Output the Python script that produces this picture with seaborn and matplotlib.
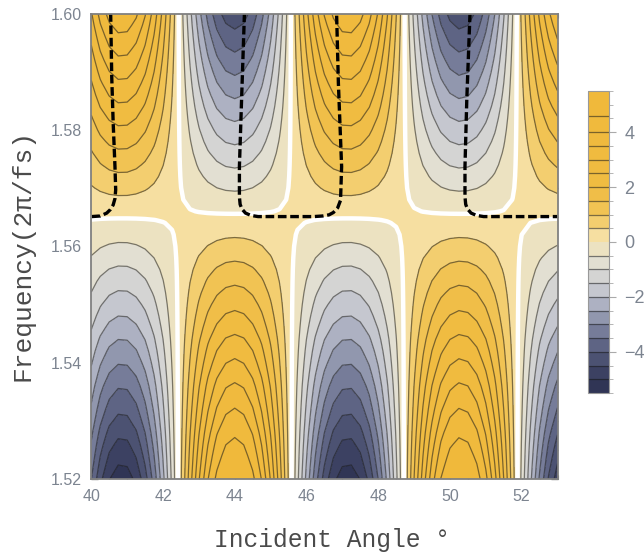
import numpy as np
import matplotlib
matplotlib.use("Agg")
import matplotlib.pyplot as plt
from matplotlib.colors import LinearSegmentedColormap
from matplotlib.ticker import MultipleLocator, FormatStrFormatter
import seaborn as sns

sns.set_style("white")
plt.rcParams['font.family'] = ['Liberation Sans', 'DejaVu Sans']

# angle samples and the lobe height read across the map (+ = gold below the band)
angles = np.arange(40, 53.01, 0.25)
angle_profile = [-.662, -.826, -.940, -.995, -.989, -.921, -.797, -.624, -.411, -.174,
                 .075, .319, .543, .733, .878, .969, 1, .969, .878, .733, .543, .319, .075,
                 -.174, -.411, -.624, -.797, -.921, -.989, -.995, -.940, -.826, -.662, -.456, -.223,
                 .025, .271, .5, .698, .854, .956, .999, .980, .901, .766, .584, .365, .125,
                 -.125, -.365, -.584, -.766, -.901]

# frequency samples and contour height read along a lobe centre
freqs = [1.52, 1.522, 1.524, 1.526, 1.528, 1.53, 1.532, 1.534, 1.536, 1.538, 1.54, 1.542,
         1.544, 1.546, 1.548, 1.55, 1.552, 1.554, 1.556, 1.558, 1.56, 1.562, 1.564, 1.5645,
         1.565, 1.5652, 1.5655, 1.566, 1.568, 1.57, 1.572, 1.574, 1.576, 1.578, 1.58, 1.582,
         1.584, 1.586, 1.588, 1.59, 1.592, 1.594, 1.596, 1.598, 1.6]
freq_profile = [5.35, 5.12, 4.9, 4.68, 4.45, 4.2, 3.97, 3.74, 3.52, 3.27, 3.03, 2.8,
                2.56, 2.3, 2.06, 1.83, 1.6, 1.37, 1.13, .88, .63, .39, .14, .085,
                .025, 0, -.04, -.11, -.36, -.62, -.87, -1.12, -1.37, -1.62, -1.87, -2.12,
                -2.38, -2.63, -2.88, -3.13, -3.38, -3.63, -3.88, -4.14, -4.39]
band_offset = 0.05

# top band of the colour bar is wider than the others
levels = [-5.5, -5, -4.5, -4, -3.5, -3, -2.5, -2, -1.5, -1, -0.5, 0,
          0.5, 1, 1.5, 2, 2.5, 3, 3.5, 4, 4.6, 5.5]
line_levels = [v for v in levels[1:-1] if v != 0]
cbar_ticks = [-4, -2, 0, 2, 4]
cbar_labels = ['−4', '−2', '0', '2', '4']

# band colours at their mid values
colour_vals = [-5.5, -4.75, -4.25, -3.75, -3.25, -2.75, -2.25, -1.75, -1.25, -0.75, -0.25,
               0.25, 0.75, 1.25, 2, 5.5]
colour_hex = ['#2b3050', '#3c4162', '#4c5272', '#5f6585', '#767c99', '#9096ae', '#aeb2c3', '#c5c7cf',
              '#d5d5d3', '#e2dfd2', '#ece2c2', '#f6dfa0', '#f3ce6f', '#f1c354', '#f0bc42', '#f0b93a']

# black dashed curves
dash1_x = [40.01, 40.25, 40.43, 40.53, 40.61, 40.66, 40.68, 40.66, 40.61, 40.57, 40.54]
dash1_y = [1.5651, 1.5652, 1.5657, 1.5663, 1.5671, 1.5682, 1.5697, 1.5737, 1.5812, 1.5891, 1.60]
dash2_x = [44.27, 44.19, 44.13, 44.13, 44.15, 44.2, 44.3, 44.45, 44.65, 46.2, 46.45, 46.63, 46.75, 46.87, 46.95, 46.98, 46.89, 46.84]
dash2_y = [1.60, 1.5851, 1.5737, 1.5685, 1.5672, 1.5664, 1.5657, 1.5653, 1.5651, 1.5651, 1.5652, 1.5654, 1.5658, 1.5666, 1.5679, 1.5737, 1.5880, 1.60]
dash3_x = [50.56, 50.47, 50.42, 50.42, 50.44, 50.49, 50.59, 50.74, 50.94, 53]
dash3_y = [1.60, 1.5851, 1.5737, 1.5685, 1.5672, 1.5664, 1.5657, 1.5653, 1.5651, 1.5651]

z = np.outer(freq_profile, angle_profile) + band_offset

cmap = LinearSegmentedColormap.from_list(
    'gold_slate', [((v + 5.5) / 11, c) for v, c in zip(colour_vals, colour_hex)])
sns.set_palette(colour_hex)

frame = '#808080'
label_col = '#7c8490'

fig = plt.figure(figsize=(6.44, 5.54), dpi=100)
ax = fig.add_axes([91.3 / 644, 1 - 479 / 554, 466.2 / 644, 465.5 / 554])

cf = ax.contourf(angles, freqs, z, levels=levels, cmap=cmap, vmin=-5.5, vmax=5.5)
lines = ax.contour(angles, freqs, z, levels=line_levels, colors=[(0.1, 0.1, 0.1, 0.55)],
                   linewidths=0.9, linestyles='solid')
ax.contour(angles, freqs, z, levels=[0], colors='white', linewidths=3.2)

for dx, dy in [(dash1_x, dash1_y), (dash2_x, dash2_y), (dash3_x, dash3_y)]:
    ax.plot(dx, dy, color='black', lw=2.4, ls=(0, (2.6, 1.1)))

ax.set_xlim(40, 53)
ax.set_ylim(1.52, 1.60)
ax.xaxis.set_major_locator(MultipleLocator(2))
ax.xaxis.set_minor_locator(MultipleLocator(0.5))
ax.yaxis.set_major_locator(MultipleLocator(0.02))
ax.yaxis.set_minor_locator(MultipleLocator(0.005))
ax.yaxis.set_major_formatter(FormatStrFormatter('%.2f'))
ax.tick_params(which='major', direction='in', length=5, width=1, color=frame, top=True, right=True,
               bottom=True, left=True, labelsize=11.5, labelcolor=label_col, pad=7)
ax.tick_params(which='minor', direction='in', length=3, width=0.8, color=frame, top=True, right=True,
               bottom=True, left=True)
for spine in ax.spines.values():
    spine.set_color(frame)
    spine.set_linewidth(1.3)

ax.set_xlabel('Incident Angle °', family='Liberation Mono', fontsize=17.7, color='#4a4a4a', va='center')
ax.set_ylabel('Frequency(2π/fs)', family='Liberation Mono', fontsize=18.9, color='#4a4a4a', va='center')
ax.xaxis.set_label_coords(0.517, -0.131)
ax.yaxis.set_label_coords(-0.148, 0.481)

cax = fig.add_axes([588 / 644, 1 - 393 / 554, 21 / 644, 302 / 554])
cbar = fig.colorbar(cf, cax=cax, ticks=cbar_ticks, spacing='proportional')
cbar.add_lines(lines)
cbar.ax.set_yticklabels(cbar_labels)
cbar.ax.yaxis.set_minor_locator(MultipleLocator(0.5))
cbar.ax.tick_params(which='major', length=5, width=0.8, color='#aaaaaa', labelsize=13, labelcolor=label_col, pad=6)
cbar.ax.tick_params(which='minor', length=3, width=0.6, color='#aaaaaa')
cbar.outline.set_edgecolor('#999999')

fig.savefig('out.png', dpi=100)
